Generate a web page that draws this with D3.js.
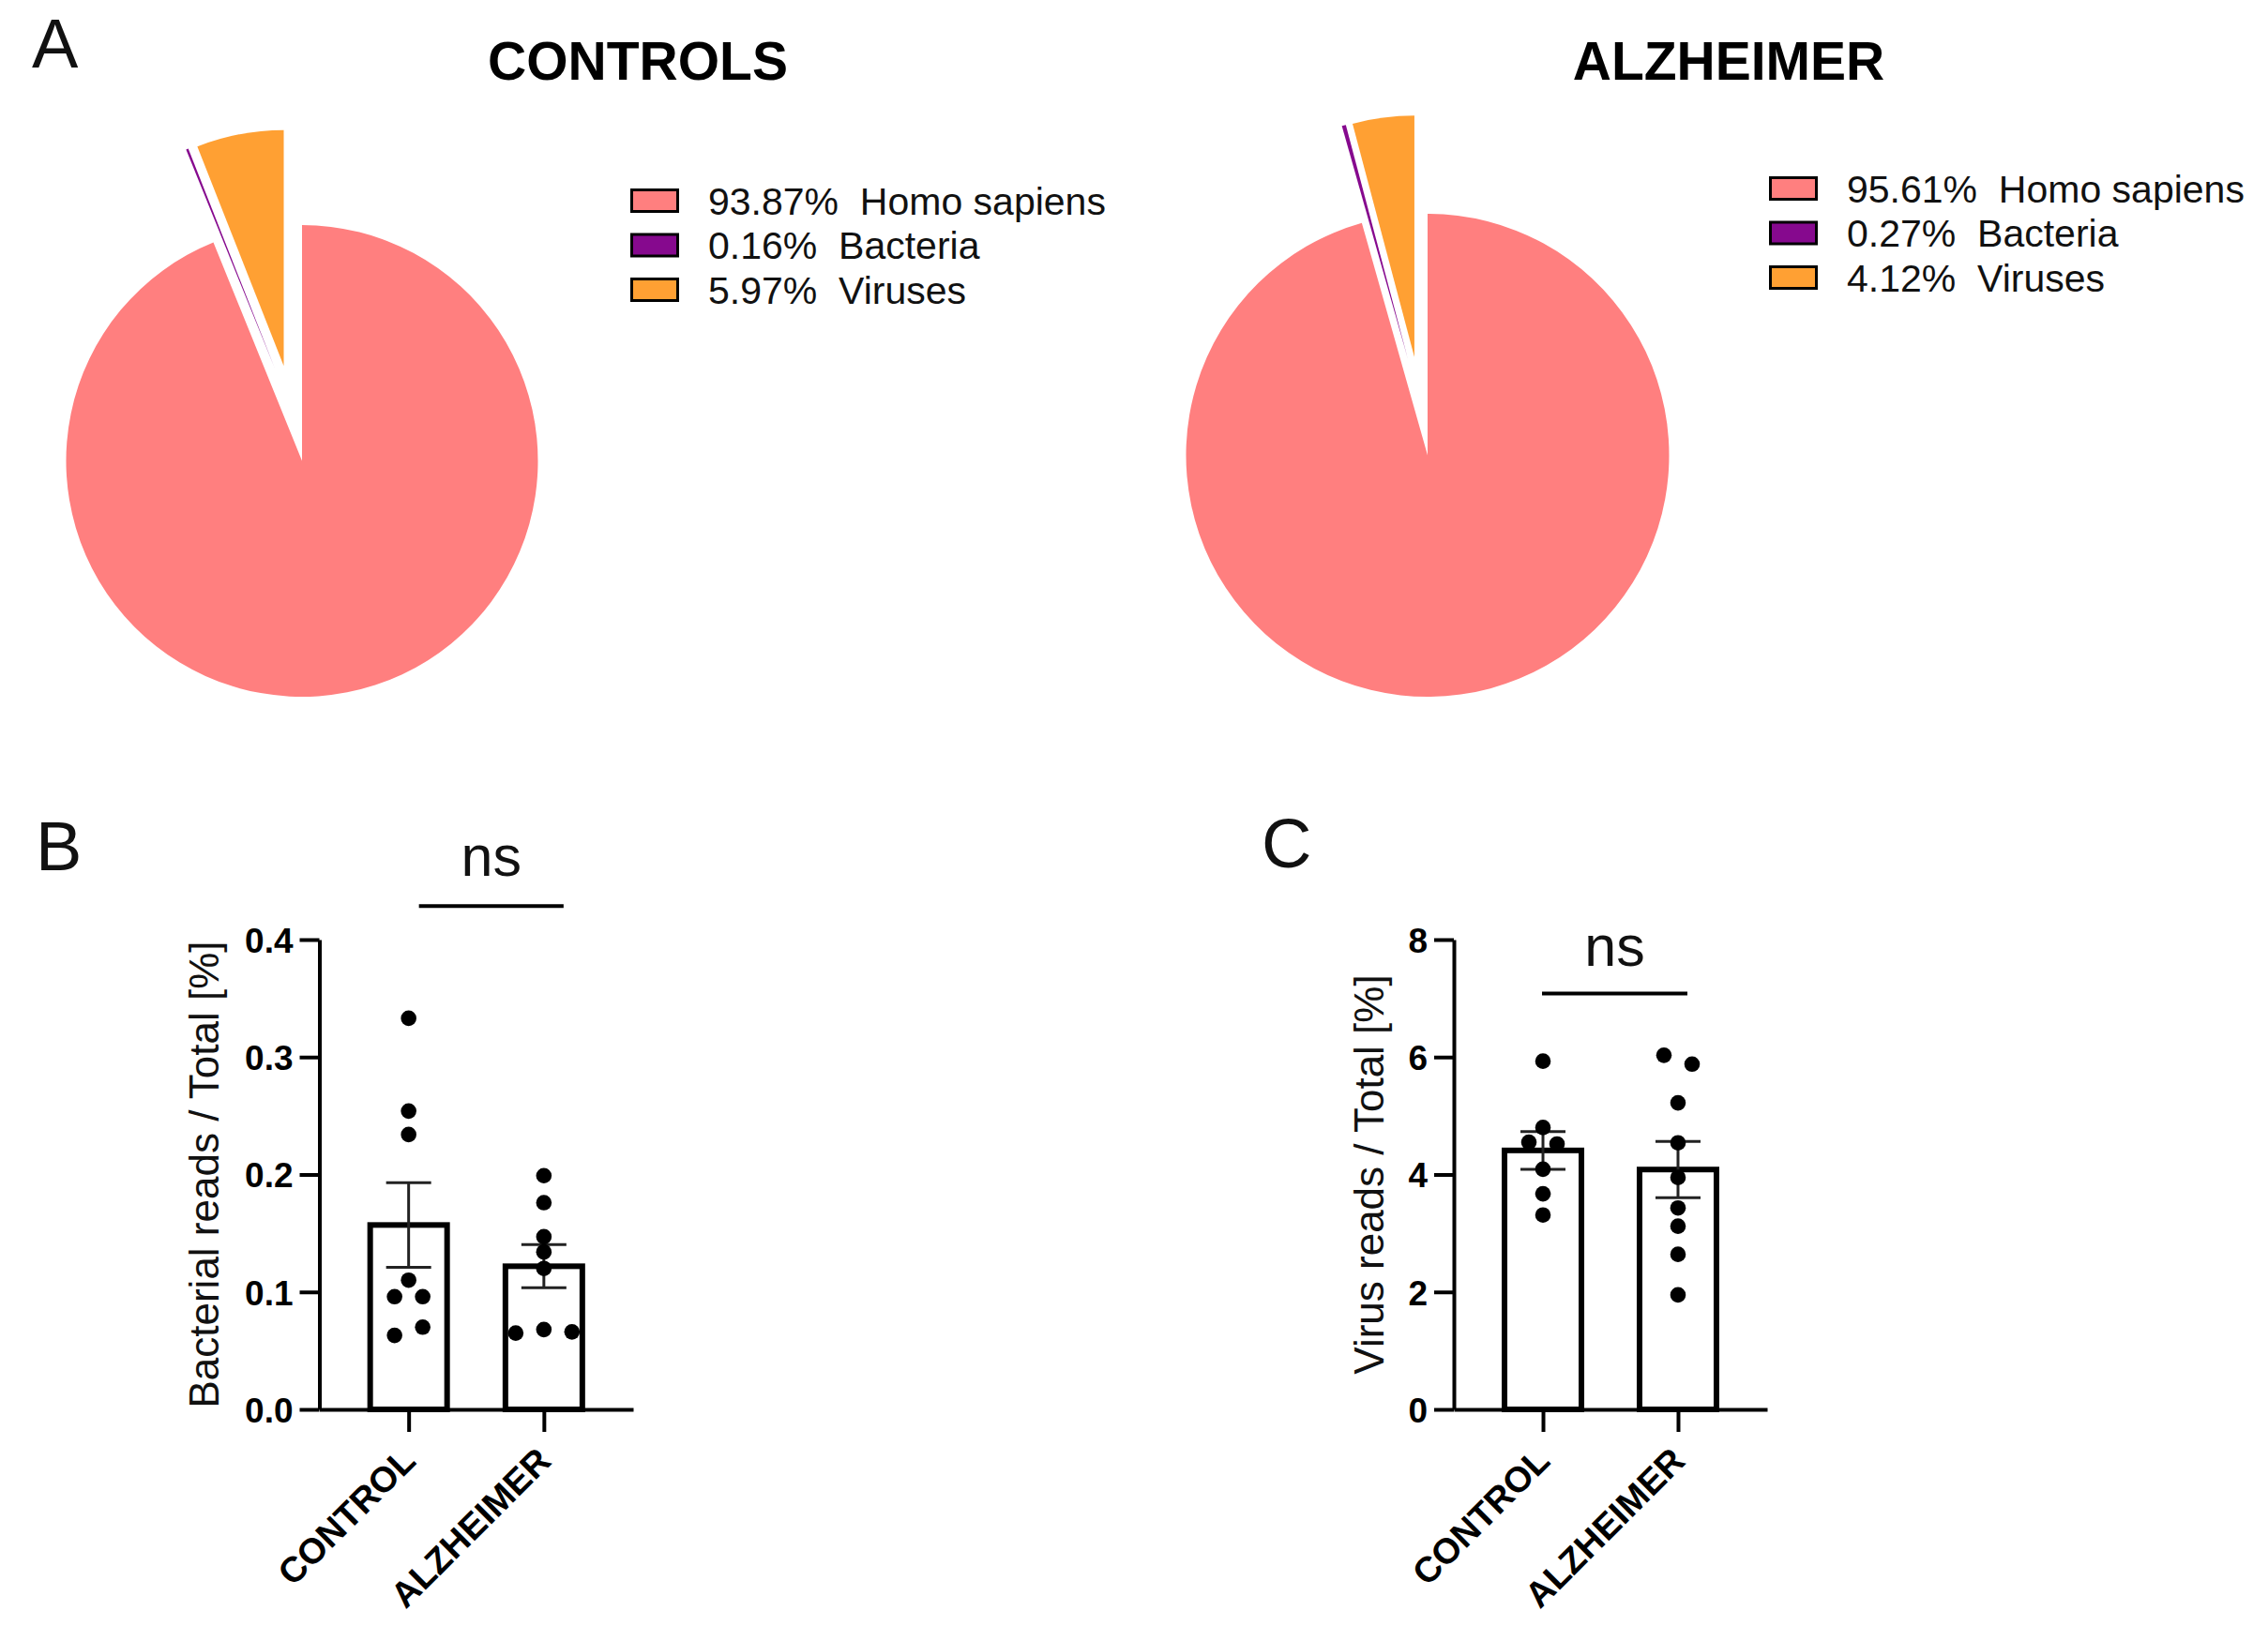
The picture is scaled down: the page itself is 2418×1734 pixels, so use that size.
<!DOCTYPE html>
<html>
<head>
<meta charset="utf-8">
<script src="https://cdn.jsdelivr.net/npm/d3@7"></script>
<style>
  body { margin: 0; background: #fff; }
  svg { display: block; font-family: "Liberation Sans", Arial, sans-serif; }
</style>
</head>
<body>
<script>
// pie data (A)
var pieCategories = ["Homo sapiens", "Bacteria", "Viruses"];
var controlsShares = [93.87, 0.16, 5.97];
var alzheimerShares = [95.61, 0.27, 4.12];
var pieColors = ["#FF7F7F", "#86098E", "#FFA033"];
var explodedSlices = ["Bacteria", "Viruses"];

// bar data (B, C)
var groups = ["CONTROL", "ALZHEIMER"];
var bacteriaControl = [0.333, 0.254, 0.234, 0.110, 0.096, 0.096, 0.063, 0.070];
var bacteriaAlzheimer = [0.199, 0.176, 0.147, 0.134, 0.120, 0.065, 0.068, 0.066];
var virusControl = [5.93, 4.80, 4.55, 4.52, 4.09, 3.67, 3.31];
var virusAlzheimer = [6.03, 5.88, 5.22, 4.54, 3.95, 3.43, 3.12, 2.64, 1.95];
var bacteriaTicks = [0, 0.1, 0.2, 0.3, 0.4];
var virusTicks = [0, 2, 4, 6, 8];

var W = 2418, H = 1734;
var svg = d3.select("body").append("svg").attr("width", W).attr("height", H);
svg.append("rect").attr("width", W).attr("height", H).attr("fill", "#fff");

function panelLetter(txt, x, y) {
    svg.append("text").attr("x", x).attr("y", y)
        .style("font-size", "74px").attr("fill", "#111").text(txt);
}

function drawPie(shares, cx, cy, r, title, titleX, legX, legY) {
    var data = pieCategories.map(function (c, i) {
        return {name: c, v: shares[i], color: pieColors[i]};
    });
    var pie = d3.pie().sort(null).value(function (d) { return d.v; });
    var arcs = pie(data);
    var arc = d3.arc().innerRadius(0).outerRadius(r);
    var off = r * 0.41;

    // exploded slices are pushed out half along their own bisector,
    // half along the bisector of the whole exploded group
    var ex = arcs.filter(function (d) { return explodedSlices.indexOf(d.data.name) >= 0; });
    var groupMid = (d3.min(ex, function (d) { return d.startAngle; }) +
                    d3.max(ex, function (d) { return d.endAngle; })) / 2;

    var g = svg.append("g").attr("transform", "translate(" + cx + "," + cy + ")");
    g.selectAll("path").data(arcs).join("path")
        .attr("d", arc)
        .attr("fill", function (d) { return d.data.color; })
        .attr("transform", function (d) {
            if (explodedSlices.indexOf(d.data.name) < 0) return null;
            var a = ((d.startAngle + d.endAngle) / 2 + groupMid) / 2;
            return "translate(" + (off * Math.sin(a)) + "," + (-off * Math.cos(a)) + ")";
        });

    svg.append("text").attr("x", titleX).attr("y", 85)
        .attr("text-anchor", "middle")
        .style("font-size", "57px").style("font-weight", "bold")
        .attr("fill", "#000").text(title);

    var step = 47.5;
    var lg = svg.append("g").attr("transform", "translate(" + legX + "," + legY + ")");
    var rows = lg.selectAll("g").data(data).join("g")
        .attr("transform", function (d, i) { return "translate(0," + (i * step) + ")"; });
    rows.append("rect")
        .attr("x", 1.5).attr("y", -11.5).attr("width", 49).attr("height", 23)
        .attr("fill", function (d) { return d.color; })
        .attr("stroke", "#000").attr("stroke-width", 3);
    rows.append("text")
        .attr("x", 83).attr("y", 14.5)
        .style("font-size", "41px").attr("fill", "#111")
        .text(function (d) { return d3.format(".2f")(d.v) + "%\u00a0\u00a0" + d.name; });
}

drawPie(controlsShares, 322, 491.5, 251.5, "CONTROLS", 680, 672, 214);
drawPie(alzheimerShares, 1522, 485.5, 257.5, "ALZHEIMER", 1843, 1886, 201);
panelLetter("A", 34, 72);

// simple column scatter: near-equal values share a row, spread side by side
function layoutDots(values, y, cx, spacing) {
    var rows = [];
    values.forEach(function (v) {
        var py = y(v);
        var row = rows.find(function (r) { return Math.abs(r.y0 - py) < 12; });
        if (!row) { row = {y0: py, items: []}; rows.push(row); }
        row.items.push(v);
    });
    var out = [];
    rows.forEach(function (r) {
        var n = r.items.length;
        r.items.forEach(function (v, i) {
            out.push({x: cx + (i - (n - 1) / 2) * spacing, y: y(v)});
        });
    });
    return out;
}

function drawBars(cfg) {
    var y = d3.scaleLinear().domain([cfg.ticks[0], cfg.ticks[cfg.ticks.length - 1]])
        .range([1503, 1002]);
    var x = d3.scalePoint().domain(groups).range([cfg.x0, cfg.x1]).padding(0.66);
    var series = [cfg.control, cfg.alzheimer];

    var g = svg.append("g");

    // bars
    var barW = 82;
    series.forEach(function (vals, i) {
        var m = d3.mean(vals);
        var cx = x(groups[i]);
        g.append("rect")
            .attr("x", cx - barW / 2).attr("y", y(m))
            .attr("width", barW).attr("height", y(0) - y(m))
            .attr("fill", "#fff").attr("stroke", "#000").attr("stroke-width", 6);
    });

    // error bars (mean +/- SEM)
    series.forEach(function (vals, i) {
        var m = d3.mean(vals);
        var sem = d3.deviation(vals) / Math.sqrt(vals.length);
        var cx = x(groups[i]);
        var eg = g.append("g").attr("stroke", "#222").attr("stroke-width", 3);
        eg.append("line").attr("x1", cx).attr("x2", cx).attr("y1", y(m - sem)).attr("y2", y(m + sem));
        [m - sem, m + sem].forEach(function (v) {
            eg.append("line").attr("x1", cx - 24).attr("x2", cx + 24).attr("y1", y(v)).attr("y2", y(v));
        });
    });

    // dots
    series.forEach(function (vals, i) {
        var pts = layoutDots(vals, y, x(groups[i]), 30);
        g.selectAll(null).data(pts).join("circle")
            .attr("cx", function (d) { return d.x; })
            .attr("cy", function (d) { return d.y; })
            .attr("r", 8.3).attr("fill", "#000");
    });

    // axes
    var ya = g.append("g").attr("transform", "translate(" + cfg.x0 + ",0)")
        .call(d3.axisLeft(y).tickValues(cfg.ticks).tickFormat(cfg.fmt)
            .tickSize(21).tickSizeOuter(0).tickPadding(7));
    var xa = g.append("g").attr("transform", "translate(0," + y(0) + ")")
        .call(d3.axisBottom(x).tickSize(24).tickSizeOuter(0));
    [ya, xa].forEach(function (a) {
        a.selectAll("path, line").attr("stroke", "#000").attr("stroke-width", 4);
        a.selectAll("text").attr("fill", "#000")
            .style("font-family", "'Liberation Sans', Arial, sans-serif")
            .style("font-weight", "bold");
    });
    ya.selectAll("text").style("font-size", "37px").attr("dy", "0.36em");
    xa.selectAll("text")
        .style("font-size", "38px")
        .attr("x", 0).attr("y", 0).attr("dy", 0)
        .attr("transform", "translate(9,57) rotate(-45)")
        .style("text-anchor", "end");

    // y label
    g.append("text")
        .attr("transform", "translate(" + cfg.labelX + "," + ((y(0) + y(cfg.ticks[cfg.ticks.length - 1])) / 2) + ") rotate(-90)")
        .attr("text-anchor", "middle")
        .style("font-size", "44px").attr("fill", "#111")
        .text(cfg.label);

    // significance
    var by = y(cfg.bracketAt);
    g.append("line")
        .attr("x1", x(groups[0]) + cfg.bracketDx[0]).attr("x2", x(groups[1]) + cfg.bracketDx[1])
        .attr("y1", by).attr("y2", by)
        .attr("stroke", "#000").attr("stroke-width", 4);
    g.append("text")
        .attr("x", (x(groups[0]) + cfg.bracketDx[0] + x(groups[1]) + cfg.bracketDx[1]) / 2)
        .attr("y", by - cfg.nsGap)
        .attr("text-anchor", "middle")
        .style("font-size", "61px").attr("fill", "#111").text("ns");
}

drawBars({
    x0: 340.5, x1: 675, ticks: bacteriaTicks, fmt: d3.format(".1f"),
    control: bacteriaControl, alzheimer: bacteriaAlzheimer,
    label: "Bacterial reads / Total [%]", labelX: 233,
    bracketAt: 0.4286, bracketDx: [11, 21], nsGap: 32
});
drawBars({
    x0: 1550, x1: 1884, ticks: virusTicks, fmt: d3.format("d"),
    control: virusControl, alzheimer: virusAlzheimer,
    label: "Virus reads / Total [%]", labelX: 1475,
    bracketAt: 7.08, bracketDx: [-1, 10], nsGap: 30
});
panelLetter("B", 38, 928);
panelLetter("C", 1345, 925);
</script>
</body>
</html>
